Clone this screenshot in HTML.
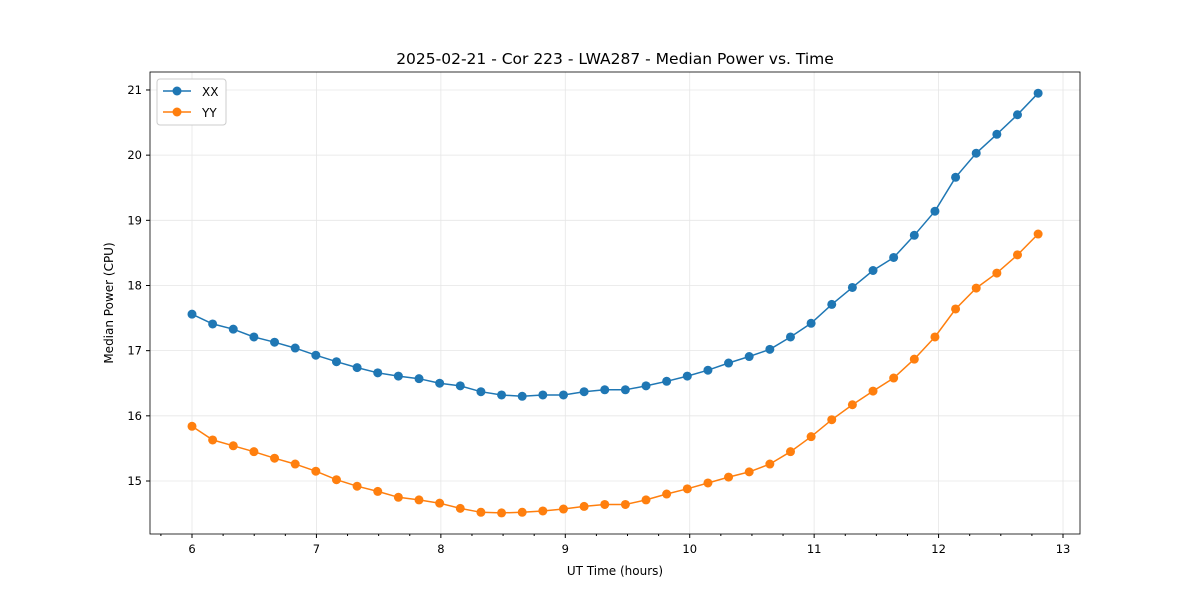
<!DOCTYPE html>
<html><head><meta charset="utf-8"><style>
body{margin:0;background:#fff;font-family:"Liberation Sans","DejaVu Sans",sans-serif;}
svg text{font-family:"DejaVu Sans","Liberation Sans",sans-serif;}
</style></head><body>
<svg id="chart" width="1200" height="600" xmlns="http://www.w3.org/2000/svg"></svg>
<script>
const xxValues=[17.56,17.41,17.33,17.21,17.13,17.04,16.93,16.83,16.74,16.66,16.61,16.57,16.50,16.46,16.37,16.32,16.30,16.32,16.32,16.37,16.40,16.40,16.46,16.53,16.61,16.70,16.81,16.91,17.02,17.21,17.42,17.71,17.97,18.23,18.43,18.77,19.14,19.66,20.03,20.32,20.62,20.95];
const yyValues=[15.84,15.63,15.54,15.45,15.35,15.26,15.15,15.02,14.92,14.84,14.75,14.71,14.66,14.58,14.52,14.51,14.52,14.54,14.57,14.61,14.64,14.64,14.71,14.80,14.88,14.97,15.06,15.14,15.26,15.45,15.68,15.94,16.17,16.38,16.58,16.87,17.21,17.64,17.96,18.19,18.47,18.79];
const timeStart=6, timeStepHours=6.8/41;
const xTicks=[6,7,8,9,10,11,12,13];
const yTicks=[15,16,17,18,19,20,21];
const L=150,R=1080,T=72,B=534;
const X=v=>192+(v-6)*124.43;
const Y=v=>481-(v-15)*65.17;
const svg=document.getElementById('chart');
const NS='http://www.w3.org/2000/svg';
function mk(tag,attrs,parent){const e=document.createElementNS(NS,tag);for(const k in attrs)e.setAttribute(k,attrs[k]);(parent||svg).appendChild(e);return e;}
function txt(s,attrs){const e=mk('text',attrs);e.textContent=s;return e;}
const t=txt('2025-02-21 - Cor 223 - LWA287 - Median Power vs. Time',{x:615,y:64,'text-anchor':'middle','font-size':15.5});


xTicks.forEach(v=>{
  const g=mk('line',{x1:X(v),x2:X(v),y1:T,y2:B,stroke:'#e6e6e6','stroke-width':0.8});
  
  
  mk('line',{x1:X(v),x2:X(v),y1:B,y2:B+4,stroke:'#000'});
  const l=txt(String(v),{x:X(v),y:B+19,'text-anchor':'middle','font-size':11.5});
  
  
});
for(let m=5.75;m<=13.1;m+=0.25){if(Math.abs(m-Math.round(m))>0.01&&X(m)>L&&X(m)<R)mk('line',{x1:X(m),x2:X(m),y1:B,y2:B+2,stroke:'#000'});}
yTicks.forEach(v=>{
  const g=mk('line',{x1:L,x2:R,y1:Y(v),y2:Y(v),stroke:'#e6e6e6','stroke-width':0.8});
  
  
  mk('line',{x1:L-4,x2:L,y1:Y(v),y2:Y(v),stroke:'#000'});
  const l=txt(String(v),{x:L-8,y:Y(v)+4,'text-anchor':'end','font-size':11.5});
  
  
});
const frame=mk('rect',{x:L,y:T,width:R-L,height:B-T,fill:'none',stroke:'#000','stroke-width':0.8});


const xl=txt('UT Time (hours)',{x:615,y:575,'text-anchor':'middle','font-size':12});


const yl=txt('Median Power (CPU)',{x:113,y:303,'text-anchor':'middle','font-size':12,transform:'rotate(-90 113 303)'});


function series(vals,color,name){
  const pts=vals.map((v,i)=>X(timeStart+i*timeStepHours).toFixed(1)+','+Y(v).toFixed(1)).join(' ');
  const pl=mk('polyline',{points:pts,fill:'none',stroke:color,'stroke-width':1.5});
  
  
  vals.forEach((v,i)=>{
    const c=mk('circle',{cx:X(timeStart+i*timeStepHours),cy:Y(v),r:4.5,fill:color});
    
    
  });
}
series(xxValues,'#1f77b4','xx');
series(yyValues,'#ff7f0e','yy');
const lg=mk('rect',{x:157,y:79,width:69,height:46,rx:3,fill:'#fff',stroke:'#ccc'});


[['XX','#1f77b4',91],['YY','#ff7f0e',112]].forEach(([n,c,y])=>{
  mk('line',{x1:163,x2:191,y1:y,y2:y,stroke:c,'stroke-width':1.5});
  mk('circle',{cx:177,cy:y,r:4.5,fill:c});
  const e=txt(n,{x:202,y:y+5,'font-size':12});
  
  
});
</script>
</body></html>
